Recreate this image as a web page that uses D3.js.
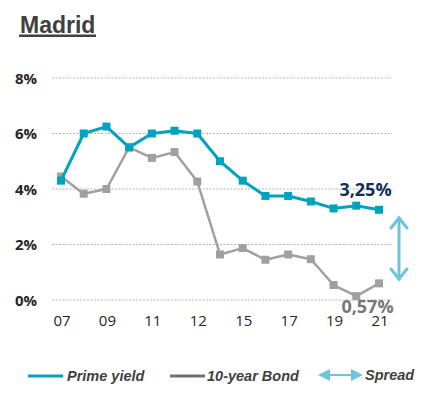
<!DOCTYPE html>
<html lang="en">
<head>
  <meta charset="UTF-8">
  <title>Madrid</title>
  <script src="https://d3js.org/d3.v7.min.js"></script>
  <style>
    body { margin: 0; background: #fff; }
    text { font-family: "Liberation Sans", Arial, sans-serif; }
    .num { font-family: "Open Sans", "Noto Sans", sans-serif; }
  </style>
</head>
<body>
  <svg id="chart" width="431" height="398"></svg>

  <script>
    // Data
    const tickLabels = ["07", "", "09", "", "11", "", "12", "", "15", "", "17", "", "19", "", "21"];
    const primeYield = [4.3, 6.0, 6.25, 5.5, 6.0, 6.1, 6.0, 5.0, 4.3, 3.75, 3.75, 3.55, 3.3, 3.4, 3.25];
    const bond10y = [4.45, 3.83, 4.0, 5.5, 5.12, 5.33, 4.27, 1.64, 1.87, 1.45, 1.64, 1.47, 0.54, 0.14, 0.6];
    const yTicks = [0, 2, 4, 6, 8];

    const tealColor = "#00A3BF";
    const greyColor = "#A0A0A0";
    const arrowColor = "#6EC3DD";

    const svg = d3.select("#chart");

    // Title
    svg.append("text")
      .attr("x", 20).attr("y", 33)
      .style("font-size", "23px").style("font-weight", "bold")
      .style("fill", "#404040")
      .text("Madrid");
    svg.append("rect")
      .attr("x", 19).attr("y", 34.5).attr("width", 77).attr("height", 2.5)
      .attr("fill", "#404040");

    // Scales
    const x = d3.scalePoint()
      .domain(d3.range(tickLabels.length))
      .range([61, 379]);

    const y = d3.scaleLinear()
      .domain([0, 8])
      .range([300, 78]);

    // Gridlines
    svg.append("g")
      .selectAll("line")
      .data(yTicks)
      .join("line")
      .attr("x1", 52).attr("x2", 392)
      .attr("y1", d => y(d)).attr("y2", d => y(d))
      .attr("stroke", "#B4B4B4")
      .attr("stroke-width", 1.2)
      .attr("stroke-dasharray", "2,1.5");

    // Y labels
    svg.append("g")
      .selectAll("text")
      .data(yTicks)
      .join("text")
      .attr("class", "num")
      .attr("x", 37).attr("y", d => y(d) + 5.5)
      .attr("text-anchor", "end")
      .style("font-size", "15px").style("font-weight", "bold")
      .style("fill", "#262626")
      .text(d => d + "%");

    // X labels
    svg.append("g")
      .selectAll("text")
      .data(tickLabels)
      .join("text")
      .attr("class", "num")
      .attr("x", (d, i) => x(i) + 1).attr("y", 326)
      .attr("text-anchor", "middle")
      .style("font-size", "15px")
      .style("fill", "#262626")
      .text(d => d);

    const line = d3.line()
      .x((d, i) => x(i))
      .y(d => y(d));

    function drawSeries(values, color, width, size) {
      svg.append("path")
        .datum(values)
        .attr("d", line)
        .attr("fill", "none")
        .attr("stroke", color)
        .attr("stroke-width", width)
        .attr("stroke-linejoin", "round");
      svg.append("g")
        .selectAll("rect")
        .data(values)
        .join("rect")
        .attr("x", (d, i) => x(i) - size / 2)
        .attr("y", d => y(d) - size / 2)
        .attr("width", size).attr("height", size)
        .attr("fill", color);
    }

    drawSeries(bond10y, greyColor, 2.5, 8);
    drawSeries(primeYield, tealColor, 3, 8);

    // Value labels
    svg.append("text")
      .attr("class", "num")
      .attr("x", 365.5).attr("y", 196)
      .attr("text-anchor", "middle")
      .style("font-size", "18px").style("font-weight", "bold")
      .style("fill", "#0E2F5C")
      .text("3,25%");
    svg.append("text")
      .attr("class", "num")
      .attr("x", 367.5).attr("y", 313)
      .attr("text-anchor", "middle")
      .style("font-size", "18px").style("font-weight", "bold")
      .style("fill", "#777777")
      .text("0,57%");

    // Spread arrow
    const spread = svg.append("g")
      .attr("stroke", arrowColor).attr("stroke-width", 3)
      .attr("fill", "none").attr("stroke-linecap", "round");
    spread.append("line").attr("x1", 399).attr("x2", 399).attr("y1", 218).attr("y2", 279);
    spread.append("path").attr("d", "M391,228 L399,218 L407,228");
    spread.append("path").attr("d", "M391,269 L399,279 L407,269");

    // Legend
    const legend = svg.append("g");
    legend.append("line").attr("x1", 28).attr("x2", 63).attr("y1", 376).attr("y2", 376)
      .attr("stroke", tealColor).attr("stroke-width", 3);
    legend.append("text").attr("x", 67).attr("y", 381)
      .style("font-size", "14.5px").style("font-weight", "bold").style("font-style", "italic")
      .style("fill", "#404040").text("Prime yield");
    legend.append("line").attr("x1", 170).attr("x2", 205).attr("y1", 376).attr("y2", 376)
      .attr("stroke", "#707070").attr("stroke-width", 3);
    legend.append("text").attr("x", 207).attr("y", 381)
      .style("font-size", "14.5px").style("font-weight", "bold").style("font-style", "italic")
      .style("fill", "#404040").text("10-year Bond");
    legend.append("line").attr("x1", 322).attr("x2", 358).attr("y1", 375).attr("y2", 375)
      .attr("stroke", arrowColor).attr("stroke-width", 2);
    legend.append("path").attr("d", "M318,375 L330,369 L330,381 Z").attr("fill", arrowColor);
    legend.append("path").attr("d", "M363,375 L351,369 L351,381 Z").attr("fill", arrowColor);
    legend.append("text").attr("x", 365).attr("y", 380)
      .style("font-size", "14.5px").style("font-weight", "bold").style("font-style", "italic")
      .style("fill", "#404040").text("Spread");
  </script>
</body>
</html>
